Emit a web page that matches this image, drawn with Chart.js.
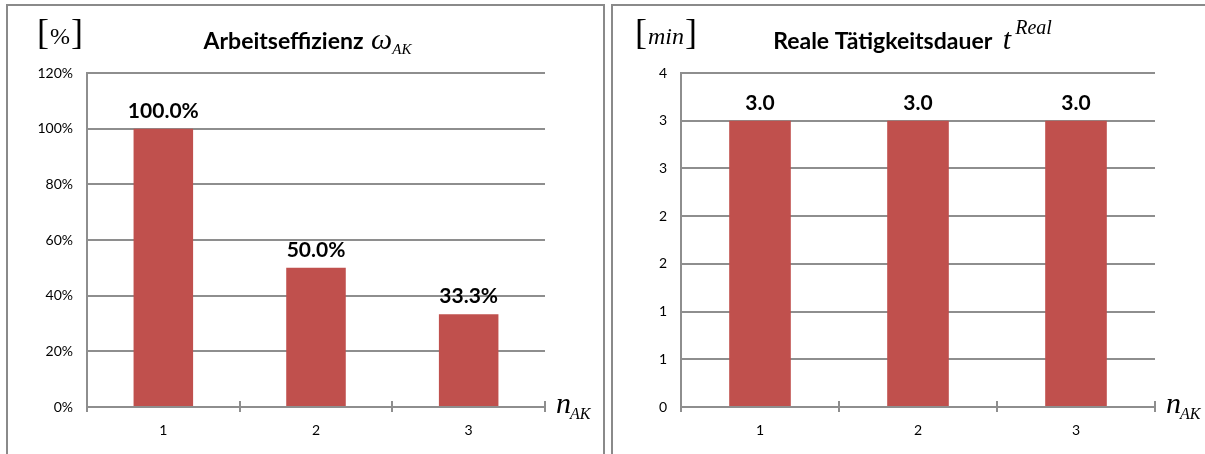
<!DOCTYPE html>
<html>
<head>
<meta charset="utf-8">
<script src="https://cdn.jsdelivr.net/npm/chart.js@4.4.1/dist/chart.umd.min.js"></script>
<style>
  html, body { margin: 0; padding: 0; background: #fff; width: 1205px; height: 454px; overflow: hidden; position: relative; }
  .panel { position: absolute; top: 4px; border: 2px solid #8a8a8a; border-bottom: none; height: 470px; }
  #panelEff { left: 6px; width: 595px; }
  #panelDur { left: 611px; width: 620px; }
  .panel canvas { position: absolute; left: 0; top: 0; }
</style>
</head>
<body>
<div class="panel" id="panelEff"><canvas id="chartEff" width="595" height="448"></canvas></div>
<div class="panel" id="panelDur"><canvas id="chartDur" width="595" height="448"></canvas></div>
<script>
// Number of workers per activity
const categories = ['1', '2', '3'];
// Work efficiency in percent
const efficiencyPct = [100.0, 50.0, 33.3];
// Real activity duration in minutes
const durationMin = [3.0, 3.0, 3.0];
// Value-axis tick labels
const effTickLabels = ['0%', '20%', '40%', '60%', '80%', '100%', '120%'];
const durTickLabels = ['0', '1', '1', '2', '2', '3', '3', '4'];

const BAR = '#C0504D';
const AXIS = '#8e8e8e';
const SANS = 'Lato, "Open Sans", sans-serif';
const SERIF = '"Liberation Serif", "DejaVu Serif", serif';

// Bold value above each bar
const valueLabels = {
  id: 'valueLabels',
  afterDatasetsDraw(chart, args, opts) {
    const ctx = chart.ctx;
    const meta = chart.getDatasetMeta(0);
    const data = chart.data.datasets[0].data;
    ctx.save();
    ctx.font = 'bold 21px ' + SANS;
    ctx.fillStyle = '#000';
    ctx.textAlign = 'center';
    ctx.textBaseline = 'alphabetic';
    meta.data.forEach((bar, i) => ctx.fillText(opts.format(data[i]), bar.x, bar.y - 11));
    ctx.restore();
  }
};

// Cross tick marks on the category axis at category boundaries
const crossTicks = {
  id: 'crossTicks',
  afterDraw(chart) {
    const x = chart.scales.x;
    const n = chart.data.labels.length;
    const ctx = chart.ctx;
    ctx.save();
    ctx.strokeStyle = AXIS;
    ctx.lineWidth = 2;
    for (let i = 0; i <= n; i++) {
      const px = Math.round(x.left + i * (x.width / n));
      ctx.beginPath();
      ctx.moveTo(px, x.top - 6);
      ctx.lineTo(px, x.top + 5);
      ctx.stroke();
    }
    ctx.restore();
  }
};

// Draws a sequence of text runs with individual fonts and baseline shifts
function drawRuns(ctx, runs, x, y, align) {
  const widths = runs.map(r => { ctx.font = r.font; return ctx.measureText(r.t).width + (r.gap || 0); });
  const total = widths.reduce((a, b) => a + b, 0);
  let cx = align === 'center' ? x - total / 2 : x;
  runs.forEach((r, i) => {
    ctx.font = r.font;
    ctx.fillText(r.t, cx, y + (r.dy || 0));
    cx += widths[i];
  });
}

// Title, unit and axis name
const panelText = {
  id: 'panelText',
  afterDraw(chart, args, opts) {
    const ctx = chart.ctx;
    const area = chart.chartArea;
    ctx.save();
    ctx.fillStyle = '#000';
    ctx.textAlign = 'left';
    ctx.textBaseline = 'alphabetic';
    drawRuns(ctx, opts.title, chart.width / 2 + 2, 43, 'center');
    drawRuns(ctx, opts.unit, opts.unitX, 38, 'left');
    drawRuns(ctx, [
      { t: 'n', font: 'italic 30px ' + SERIF, gap: -1 },
      { t: 'AK', font: 'italic 16px ' + SERIF, dy: 6 }
    ], area.right + 11, area.bottom + 6, 'left');
    ctx.restore();
  }
};

function barChart(id, cfg) {
  return new Chart(document.getElementById(id), {
    type: 'bar',
    data: {
      labels: categories,
      datasets: [{
        data: cfg.values,
        backgroundColor: BAR,
        borderWidth: 0,
        barPercentage: 0.39,
        categoryPercentage: 1
      }]
    },
    options: {
      responsive: false,
      animation: false,
      devicePixelRatio: 1,
      layout: { padding: { left: 0, top: 67, right: cfg.padRight, bottom: 0 } },
      plugins: {
        legend: { display: false },
        tooltip: { enabled: false },
        valueLabels: { format: cfg.format },
        panelText: { title: cfg.title, unit: cfg.unit, unitX: cfg.unitX }
      },
      scales: {
        x: {
          grid: { drawOnChartArea: false, drawTicks: false },
          border: { display: true, color: AXIS, width: 2 },
          ticks: { color: '#000', font: { family: SANS, size: 14 }, padding: 15 },
          afterFit(s) { s.height = 47; }
        },
        y: {
          min: 0,
          max: cfg.max,
          ticks: {
            stepSize: cfg.step,
            color: '#000',
            font: { family: SANS, size: 14 },
            padding: 14,
            callback: (v, i) => cfg.tickLabels[i]
          },
          grid: { color: AXIS, lineWidth: 2, drawTicks: false },
          border: { color: AXIS, width: 2 },
          afterFit(s) { s.width = cfg.yWidth; }
        }
      }
    },
    plugins: [valueLabels, crossTicks, panelText]
  });
}

function build() {
  barChart('chartEff', {
    values: efficiencyPct,
    max: 120,
    step: 20,
    tickLabels: effTickLabels,
    yWidth: 79,
    padRight: 58,
    format: v => v.toFixed(1) + '%',
    title: [
      { t: 'Arbeitseffizienz ', font: 'bold 23px ' + SANS, gap: 2 },
      { t: 'ω', font: 'italic 30px ' + SERIF },
      { t: 'AK', font: 'italic 15px ' + SERIF, dy: 5 }
    ],
    unitX: 29,
    unit: [
      { t: '[', font: '36px ' + SERIF, gap: 1 },
      { t: '%', font: '24px ' + SERIF, gap: 1 },
      { t: ']', font: '36px ' + SERIF }
    ]
  });
  barChart('chartDur', {
    values: durationMin,
    max: 3.5,
    step: 0.5,
    tickLabels: durTickLabels,
    yWidth: 68,
    padRight: 53,
    format: v => v.toFixed(1),
    title: [
      { t: 'Reale Tätigkeitsdauer ', font: 'bold 23px ' + SANS, gap: 5 },
      { t: 't', font: 'italic 30px ' + SERIF, gap: 4 },
      { t: 'Real', font: 'italic 20px ' + SERIF, dy: -15 }
    ],
    unitX: 22,
    unit: [
      { t: '[', font: '36px ' + SERIF, gap: 1 },
      { t: 'min', font: 'italic 24px ' + SERIF, gap: 1 },
      { t: ']', font: '36px ' + SERIF }
    ]
  });
}

const fontLoads = ['14px Lato', 'bold 23px Lato', 'italic 20px "Liberation Serif"', '20px "Liberation Serif"']
  .map(f => document.fonts.load(f).catch(() => null));
Promise.all(fontLoads).then(build, build);
</script>
</body>
</html>
